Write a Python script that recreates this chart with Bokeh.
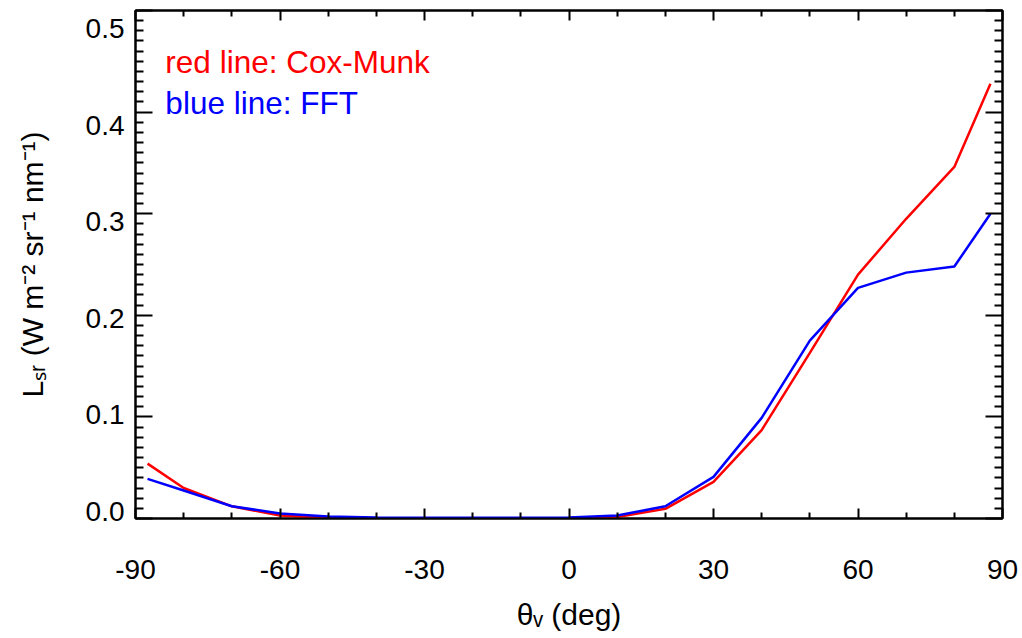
from bokeh.plotting import figure
from bokeh.models import LinearAxis, Range1d, FixedTicker, Label, CustomJSTickFormatter
from bokeh.embed import file_html
from bokeh.resources import INLINE

# ---- data ----
theta = [-87.5, -80, -70, -60, -50, -40, -30, -20, -10, 0, 10, 20, 30, 40, 50, 60, 70, 80, 87.5]
cox_munk = [0.054, 0.030, 0.012, 0.003, 0.0005, 0.0, 0.0, 0.0, 0.0, 0.0005, 0.0015, 0.0095,
            0.036, 0.087, 0.163, 0.240, 0.295, 0.346, 0.428]
fft = [0.039, 0.0275, 0.012, 0.005, 0.002, 0.001, 0.0008, 0.0008, 0.0008, 0.001, 0.003, 0.012,
       0.041, 0.099, 0.175, 0.227, 0.242, 0.248, 0.300]

x_major = [-90, -60, -30, 0, 30, 60, 90]
x_minor = [-80, -70, -50, -40, -20, -10, 10, 20, 40, 50, 70, 80]
y_major = [0.0, 0.1, 0.2, 0.3, 0.4, 0.5]
y_minor = [round(i * 0.01, 2) for i in range(51) if i % 10 != 0]

FONT = "Liberation Sans"

p = figure(frame_width=867, frame_height=508, output_backend="svg", toolbar_location=None,
           x_range=Range1d(-90, 90), y_range=Range1d(0, 0.5),
           x_axis_location=None, y_axis_location=None,
           min_border_left=135, min_border_right=20, min_border_top=10, min_border_bottom=120)
p.grid.visible = False
p.outline_line_color = "black"
p.outline_line_width = 2
p.background_fill_color = "white"
p.border_fill_color = "white"

# the reference's y tick-label column is slightly compressed relative to its ticks;
# a label-only axis on its own range reproduces that placement
p.extra_y_ranges = {"ylabels": Range1d(-0.00725, 0.5186)}

xt = FixedTicker(ticks=x_major, minor_ticks=x_minor)
yt = FixedTicker(ticks=y_major, minor_ticks=y_minor)
yt_lab = FixedTicker(ticks=y_major, minor_ticks=[])
blank = CustomJSTickFormatter(code="return ''")
xfmt = CustomJSTickFormatter(code="return tick.toFixed(0)")
yfmt = CustomJSTickFormatter(code="return tick.toFixed(1)")


def style(ax, major_in, minor_in):
    ax.axis_line_color = "black"
    ax.axis_line_width = 2
    ax.major_tick_line_width = 2
    ax.minor_tick_line_width = 2
    ax.major_tick_in = major_in
    ax.major_tick_out = 0
    ax.minor_tick_in = minor_in
    ax.minor_tick_out = 0
    ax.major_label_text_font = FONT
    ax.major_label_text_font_size = "28px"
    ax.major_label_text_color = "black"
    ax.axis_label_text_font = FONT
    ax.axis_label_text_font_style = "normal"
    ax.axis_label_text_font_size = "28px"
    ax.axis_label_text_color = "black"


def hide_labels(ax):
    ax.formatter = blank
    ax.major_label_text_font_size = "1px"
    ax.major_label_standoff = 0


bottom = LinearAxis(ticker=xt, formatter=xfmt, axis_label="θᵥ (deg)")
style(bottom, 10, 6)
bottom.major_label_standoff = 41
bottom.axis_label_standoff = 16
bottom.axis_label_text_font_size = "30px"
p.add_layout(bottom, "below")

top = LinearAxis(ticker=xt)
style(top, 10, 6)
hide_labels(top)
p.add_layout(top, "above")

left_ticks = LinearAxis(ticker=yt)
style(left_ticks, 17, 8)
hide_labels(left_ticks)
p.add_layout(left_ticks, "left")

left_labels = LinearAxis(ticker=yt_lab, formatter=yfmt, y_range_name="ylabels",
                         axis_label="Lₛᵣ (W m⁻² sr⁻¹ nm⁻¹)")
style(left_labels, 0, 0)
left_labels.axis_line_color = None
left_labels.major_tick_line_color = None
left_labels.minor_tick_line_color = None
left_labels.major_label_standoff = 11
left_labels.axis_label_standoff = 34
left_labels.axis_label_text_font_size = "30px"
p.add_layout(left_labels, "left")

right = LinearAxis(ticker=yt)
style(right, 17, 8)
hide_labels(right)
p.add_layout(right, "right")

p.line(theta, cox_munk, line_color="#ff0000", line_width=2.5)
p.line(theta, fft, line_color="#0000ff", line_width=2.5)

p.add_layout(Label(x=-83.8, y=0.449, text="red line: Cox-Munk", text_color="#ff0000",
                   text_font=FONT, text_font_size="31.5px", text_baseline="alphabetic"))
p.add_layout(Label(x=-83.8, y=0.4085, text="blue line: FFT", text_color="#0000ff",
                   text_font=FONT, text_font_size="31.5px", text_baseline="alphabetic"))

open("out.html", "w").write(file_html(p, INLINE))
